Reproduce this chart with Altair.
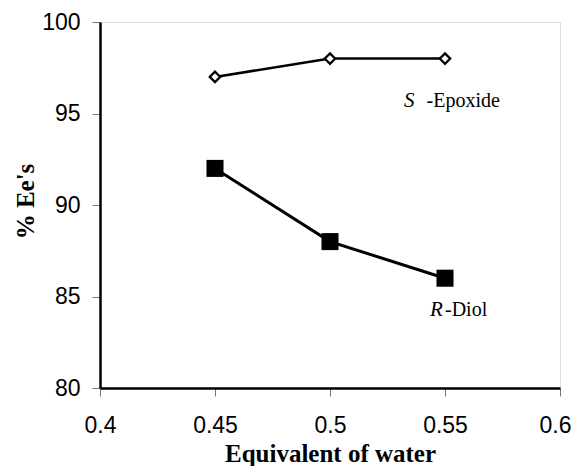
import altair as alt
import pandas as pd

# Data
water = [0.45, 0.5, 0.55]
epoxide_ee = [97, 98, 98]
diol_ee = [92, 88, 86]

x_ticks = [0.4, 0.45, 0.5, 0.55, 0.6]
y_ticks = [80, 85, 90, 95, 100]

# annotation anchors (data units)
ann_italic = ["S", "R"]
ann_rest = ["-Epoxide", "-Diol"]
ann_x_italic = [0.5322, 0.5435]
ann_x_rest = [0.5420, 0.5500]
ann_y = [95.36, 83.93]

df_epo = pd.DataFrame({"water": water, "ee": epoxide_ee})
df_diol = pd.DataFrame({"water": water, "ee": diol_ee})
df_ann = pd.DataFrame({
    "it": ann_italic, "rest": ann_rest,
    "xi": ann_x_italic, "xr": ann_x_rest, "y": ann_y,
})

xscale = alt.Scale(domain=[0.4, 0.6], nice=False, zero=False)
yscale = alt.Scale(domain=[80, 100], nice=False, zero=False)

xaxis = alt.Axis(
    values=x_ticks, format=".2~f", title="Equivalent of water",
    grid=False, domainColor="black", domainWidth=2.5,
    tickColor="#777", tickWidth=1, tickSize=8,
    labelFont="Liberation Sans", labelFontSize=23, labelColor="black",
    labelPadding=18, labelFlush=False,
    labelOffset={"condition": {"test": "datum.value >= 0.6", "value": -5}, "value": 0},
    titleFont="Liberation Serif", titleFontSize=25, titleFontWeight="bold",
    titleColor="black", titleBaseline="alphabetic", titleY=73,
)
yaxis = alt.Axis(
    values=y_ticks, title="% Ee's",
    grid=False, domainColor="black", domainWidth=2.5,
    tickColor="#777", tickWidth=1, tickSize=8,
    labelFont="Liberation Sans", labelFontSize=23, labelColor="black",
    labelPadding=12, labelFlush=False,
    titleFont="Liberation Serif", titleFontSize=25, titleFontWeight="bold",
    titleColor="black", titleAngle=-90, titleBaseline="alphabetic",
    titleAlign="center", titleX=-67, titleY=179,
)

x_enc = alt.X("water:Q", scale=xscale, axis=xaxis)
y_enc = alt.Y("ee:Q", scale=yscale, axis=yaxis)

epo_line = alt.Chart(df_epo).mark_line(color="black", strokeWidth=2.5).encode(x=x_enc, y=y_enc)
epo_pts = alt.Chart(df_epo).mark_point(
    shape="diamond", filled=True, fill="white", stroke="black", strokeWidth=2.2, size=110, opacity=1
).encode(x="water:Q", y="ee:Q")

diol_line = alt.Chart(df_diol).mark_line(color="black", strokeWidth=3).encode(x="water:Q", y="ee:Q")
diol_pts = alt.Chart(df_diol).mark_point(
    shape="square", filled=True, fill="black", stroke="black", strokeWidth=0, size=290, opacity=1
).encode(x="water:Q", y="ee:Q")

ann_it = alt.Chart(df_ann).mark_text(
    font="Liberation Serif", fontSize=21, fontStyle="italic", color="black",
    align="left", baseline="alphabetic"
).encode(x="xi:Q", y="y:Q", text="it:N")
ann_rest_m = alt.Chart(df_ann).mark_text(
    font="Liberation Serif", fontSize=20, color="black",
    align="left", baseline="alphabetic"
).encode(x="xr:Q", y="y:Q", text="rest:N")

chart = alt.layer(epo_line, epo_pts, diol_line, diol_pts, ann_it, ann_rest_m).properties(
    width=460, height=366,
    autosize=alt.AutoSizeParams(type="none"),
    padding={"left": 92, "top": 14, "right": 13, "bottom": 78},
).configure_view(stroke="black", strokeWidth=2.5).configure(background="white")

chart.save("out.html", embed_options={"renderer": "svg", "actions": False})
